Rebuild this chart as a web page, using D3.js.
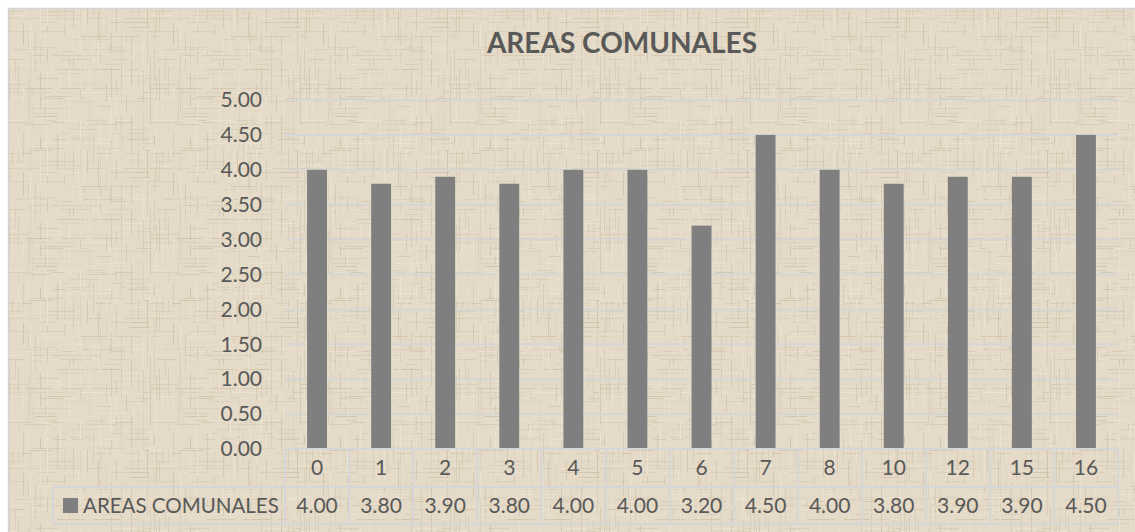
<!DOCTYPE html>
<html>
<head>
<meta charset="utf-8">
<script src="https://cdn.jsdelivr.net/npm/d3@7"></script>
<style>
  html, body { margin: 0; padding: 0; background: #ffffff; }
  svg { display: block; }
  text { font-family: Lato, "Open Sans", sans-serif; fill: #595959; }
</style>
</head>
<body>
<svg id="chart" width="1135" height="532"></svg>
<script>
// Data
const categories = ["0", "1", "2", "3", "4", "5", "6", "7", "8", "10", "12", "15", "16"];
const values = [4.00, 3.80, 3.90, 3.80, 4.00, 4.00, 3.20, 4.50, 4.00, 3.80, 3.90, 3.90, 4.50];
const yTicks = [0, 0.5, 1, 1.5, 2, 2.5, 3, 3.5, 4, 4.5, 5];
const seriesName = "AREAS COMUNALES";
const chartTitle = "AREAS COMUNALES";

const svg = d3.select("#chart");
const W = 1135, H = 532;

// Woven linen fill: a tile of broken horizontal and vertical threads
const defs = svg.append("defs");
const T = 150;
const pat = defs.append("pattern")
  .attr("id", "linen").attr("patternUnits", "userSpaceOnUse")
  .attr("width", T).attr("height", T);
pat.append("rect").attr("width", T).attr("height", T).attr("fill", "#e4dac7");
let s = 12345;
const rnd = () => { s = (s * 1103515245 + 12345) % 2147483648; return s / 2147483648; };
const threadColors = ["#cdc1aa", "#d3c8b2", "#efe7d7", "#ece3d1", "#c8bba2"];
for (let k = 0; k < 2; k++) {
  for (let p = 0; p < T; p += 2 + Math.floor(rnd() * 4)) {
    let t = 0;
    while (t < T) {
      const len = 4 + Math.floor(rnd() * 30);
      if (rnd() < 0.55) {
        const c = threadColors[Math.floor(rnd() * threadColors.length)];
        const op = 0.3 + rnd() * 0.4;
        if (k === 0) {
          pat.append("rect").attr("x", t).attr("y", p).attr("width", len).attr("height", 1).attr("fill", c).attr("opacity", op);
        } else {
          pat.append("rect").attr("x", p).attr("y", t).attr("width", 1).attr("height", len).attr("fill", c).attr("opacity", op);
        }
      }
      t += len + Math.floor(rnd() * 10);
    }
  }
}
const soft = defs.append("filter").attr("id", "soft");
soft.append("feGaussianBlur").attr("stdDeviation", 0.4);

svg.append("rect")
  .attr("x", 8).attr("y", 8).attr("width", W).attr("height", H)
  .attr("fill", "url(#linen)").attr("filter", "url(#soft)");
svg.append("rect")
  .attr("x", 8.5).attr("y", 8.5).attr("width", W).attr("height", H)
  .attr("fill", "none").attr("stroke", "#d4d4d4").attr("stroke-width", 1.5);

const plot = { left: 285, right: 1118, top: 100, bottom: 449 };
const tableRow1 = 487, tableBottom = 524, legendLeft = 53;

const x = d3.scaleBand().domain(categories).range([plot.left, plot.right]).paddingInner(0.69).paddingOuter(0.345);
const xCell = d3.scaleBand().domain(categories).range([plot.left, plot.right]);
const y = d3.scaleLinear().domain([0, 5]).range([plot.bottom, plot.top]);

// Gridlines
svg.append("g").selectAll("line").data(yTicks.filter(d => d > 0)).join("line")
  .attr("x1", plot.left).attr("x2", plot.right)
  .attr("y1", d => y(d)).attr("y2", d => y(d))
  .attr("stroke", "#d6d6d6").attr("stroke-width", 2);

// Y axis labels
const yAxis = d3.axisLeft(y).tickValues(yTicks).tickFormat(d3.format(".2f")).tickSize(0).tickPadding(0);
const gy = svg.append("g").attr("transform", `translate(262,0)`).call(yAxis);
gy.select(".domain").remove();
gy.selectAll("text").style("font-size", "21px").style("font-family", "Lato, 'Open Sans', sans-serif").attr("fill", "#595959");

// Bars
svg.append("g").selectAll("rect").data(values).join("rect")
  .attr("x", (d, i) => x(categories[i]))
  .attr("width", x.bandwidth())
  .attr("y", d => y(d))
  .attr("height", d => y(0) - y(d))
  .attr("fill", "#7f7f7f");

// Data table
const tbl = svg.append("g").attr("stroke", "#d6d6d6").attr("stroke-width", 2).attr("fill", "none");
tbl.append("line").attr("x1", plot.left).attr("x2", plot.right).attr("y1", plot.bottom).attr("y2", plot.bottom);
tbl.append("line").attr("x1", legendLeft).attr("x2", plot.right).attr("y1", tableRow1).attr("y2", tableRow1);
tbl.append("line").attr("x1", legendLeft).attr("x2", plot.right).attr("y1", tableBottom).attr("y2", tableBottom);
tbl.append("line").attr("x1", legendLeft).attr("x2", legendLeft).attr("y1", tableRow1).attr("y2", tableBottom);
tbl.selectAll("line.v").data(categories.concat(["end"])).join("line").attr("class", "v")
  .attr("x1", (d, i) => plot.left + i * xCell.bandwidth())
  .attr("x2", (d, i) => plot.left + i * xCell.bandwidth())
  .attr("y1", plot.bottom).attr("y2", tableBottom);

svg.append("g").selectAll("text").data(categories).join("text")
  .attr("x", d => xCell(d) + xCell.bandwidth() / 2)
  .attr("y", 468).attr("dy", "0.35em")
  .attr("text-anchor", "middle").style("font-size", "21px")
  .text(d => d);

svg.append("g").selectAll("text").data(values).join("text")
  .attr("x", (d, i) => xCell(categories[i]) + xCell.bandwidth() / 2)
  .attr("y", 506).attr("dy", "0.35em")
  .attr("text-anchor", "middle").style("font-size", "21px")
  .text(d => d3.format(".2f")(d));

// Legend key in table
svg.append("rect").attr("x", 63).attr("y", 498).attr("width", 15).attr("height", 15).attr("fill", "#7f7f7f");
svg.append("text").attr("x", 83).attr("y", 506).attr("dy", "0.35em").style("font-size", "20.5px").text(seriesName);

// Title
svg.append("text").attr("x", 622).attr("y", 43).attr("dy", "0.35em")
  .attr("text-anchor", "middle").style("font-size", "28px").style("font-weight", "bold")
  .text(chartTitle);
</script>
</body>
</html>
